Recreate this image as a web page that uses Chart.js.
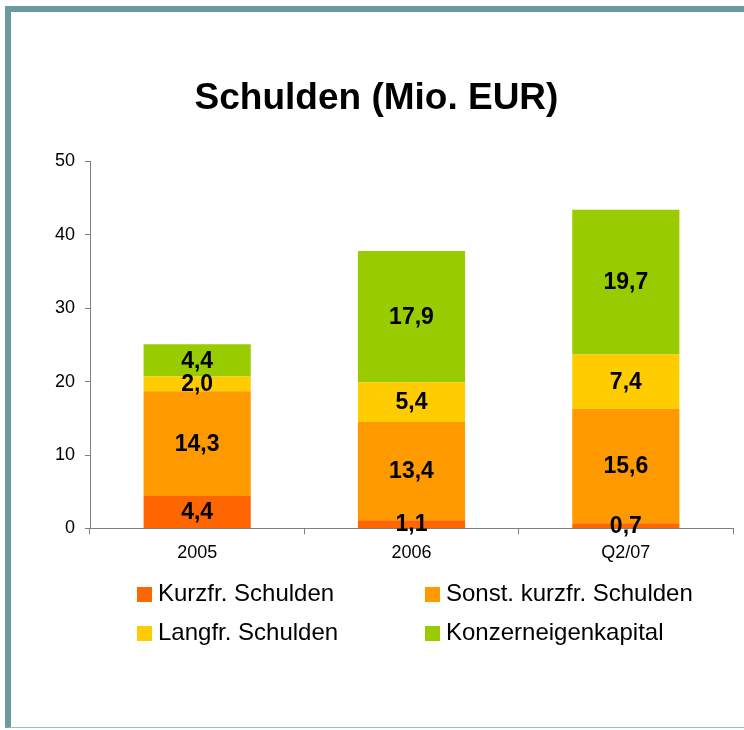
<!DOCTYPE html>
<html>
<head>
<meta charset="utf-8">
<script src="https://cdn.jsdelivr.net/npm/chart.js@4.4.1/dist/chart.umd.min.js"></script>
<style>
  body { margin: 0; background: #fff; font-family: "Liberation Sans", Arial, sans-serif; }
  #wrap { position: relative; width: 744px; height: 730px; overflow: hidden; }
  #frame { position: absolute; left: 5px; top: 6px; width: 739px; height: 715px;
           border-left: 6px solid #699ba0; border-top: 6px solid #699ba0; border-bottom: 1px solid #9dbcbf; }
  canvas { position: absolute; left: 0; top: 0; }
  .leg { position: absolute; font-size: 24px; color: #000; line-height: 28px; white-space: nowrap; }
  .leg span { display: inline-block; width: 15px; height: 15px; margin-right: 6px; vertical-align: -1px; }
</style>
</head>
<body>
<div id="wrap">
  <div id="frame"></div>
  <canvas id="myChart" width="744" height="730"></canvas>
  <div id="legend"></div>
</div>
<script>
// categories + series (Mio. EUR)
const years = ['2005', '2006', 'Q2/07'];
const kurzfr = [4.4, 1.1, 0.7];
const sonstKurzfr = [14.3, 13.4, 15.6];
const langfr = [2.0, 5.4, 7.4];
const eigenkapital = [4.4, 17.9, 19.7];
const yTicks = [0, 10, 20, 30, 40, 50];

const seriesNames = ['Kurzfr. Schulden', 'Sonst. kurzfr. Schulden', 'Langfr. Schulden', 'Konzerneigenkapital'];
const seriesColors = ['#ff6600', '#ff9900', '#ffcc00', '#99cc00'];
const seriesData = [kurzfr, sonstKurzfr, langfr, eigenkapital];

const fontFam = '"Liberation Sans", Arial, sans-serif';

// writes the numbers into the middle of each segment
const valueLabels = {
    id: 'valueLabels',
    afterDatasetsDraw(chart) {
        const c = chart.ctx;
        c.save();
        c.font = 'bold 23px ' + fontFam;
        c.fillStyle = '#000';
        c.textAlign = 'center';
        c.textBaseline = 'middle';
        chart.data.datasets.forEach((ds, i) => {
            chart.getDatasetMeta(i).data.forEach((bar, j) => {
                const txt = ds.data[j].toFixed(1).replace('.', ',');
                c.fillText(txt, bar.x, (bar.y + bar.base) / 2 + 1);
            });
        });
        c.restore();
    }
};

const ctx = document.getElementById('myChart');

new Chart(ctx, {
    type: 'bar',
    data: {
        labels: years,
        datasets: seriesNames.map((name, i) => ({
            label: name,
            data: seriesData[i],
            backgroundColor: seriesColors[i],
            borderWidth: 0,
            categoryPercentage: 1,
            barPercentage: 0.5
        }))
    },
    options: {
        responsive: false,
        animation: false,
        layout: { padding: { left: 20, right: 11, top: 0, bottom: 158 } },
        plugins: {
            legend: { display: false },
            tooltip: { enabled: false },
            title: {
                display: true,
                text: 'Schulden (Mio. EUR)',
                color: '#000',
                font: { family: fontFam, size: 37, weight: 'bold' },
                padding: { top: 77, bottom: 40 }
            }
        },
        scales: {
            x: {
                stacked: true,
                grid: { drawOnChartArea: false, tickLength: 6, color: '#808080', offset: true },
                border: { color: '#808080', width: 1 },
                ticks: { color: '#000', font: { family: fontFam, size: 18 }, padding: 8, maxRotation: 0 }
            },
            y: {
                stacked: true,
                min: 0,
                max: 50,
                afterBuildTicks(scale) { scale.ticks = yTicks.map(v => ({ value: v })); },
                afterFit(scale) { scale.width = 70; },
                grid: { drawOnChartArea: false, tickLength: 5, color: '#808080' },
                border: { color: '#808080', width: 1 },
                ticks: { color: '#000', font: { family: fontFam, size: 18 }, padding: 10 }
            }
        }
    },
    plugins: [valueLabels]
});

// legend in two columns like the original
const legPos = [[137, 579], [425, 579], [137, 618], [425, 618]];
const legendDiv = document.getElementById('legend');
seriesNames.forEach((name, i) => {
    const d = document.createElement('div');
    d.className = 'leg';
    d.style.left = legPos[i][0] + 'px';
    d.style.top = legPos[i][1] + 'px';
    d.innerHTML = '<span style="background:' + seriesColors[i] + '"></span>' + name;
    legendDiv.appendChild(d);
});
</script>
</body>
</html>
